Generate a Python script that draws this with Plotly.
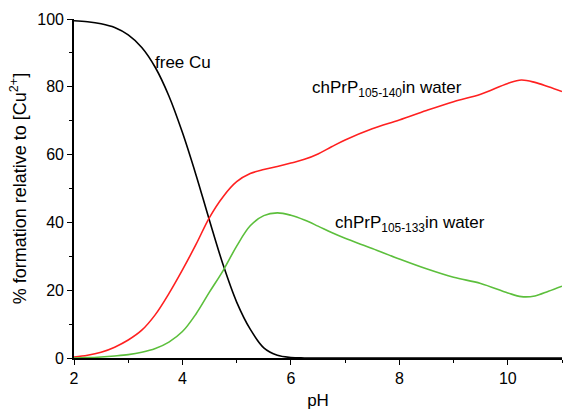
import plotly.graph_objects as go

ph = [2.0, 2.25, 2.5, 2.75, 3.0, 3.25, 3.5, 3.75, 4.0, 4.25, 4.5, 4.75, 5.0, 5.25,
      5.5, 5.75, 6.0, 6.25, 6.5, 6.75, 7.0, 7.5, 8.0, 8.5, 9.0, 9.5, 10.0, 10.25, 10.5, 10.75, 11.0]

free_cu = [99.5, 99.2, 98.6, 97.5, 95.3, 91.6, 85.7, 77.3, 66.5, 54.0, 40.5, 27.5, 16.5, 8.5,
           3.0, 0.8, 0.15, 0.02, 0.0, 0.0, 0.0, 0.0, 0.0, 0.0, 0.0, 0.0, 0.0, 0.0, 0.0, 0.0, 0.0]

prp_140 = [0.3, 0.8, 1.7, 3.2, 5.3, 8.2, 12.8, 19.0, 26.0, 33.5, 41.5, 47.6, 52.0, 54.4,
           55.6, 56.5, 57.5, 58.6, 60.2, 62.3, 64.3, 67.6, 70.2, 73.0, 75.6, 77.8, 81.0, 82.0, 81.3, 80.0, 78.6]

prp_133 = [0.0, 0.1, 0.3, 0.6, 1.0, 1.7, 2.8, 4.7, 7.8, 13.0, 19.5, 25.8, 33.0, 39.0,
           42.0, 42.8, 42.1, 40.7, 38.9, 37.0, 35.3, 32.3, 29.2, 26.3, 23.8, 22.0, 19.2, 18.1, 18.3, 19.7, 21.2]

x_ticks = [2, 4, 6, 8, 10]
y_ticks = [0, 20, 40, 60, 80, 100]

FONT = "Liberation Sans, Arial, sans-serif"

fig = go.Figure()
fig.add_trace(go.Scatter(x=ph, y=free_cu, mode="lines",
                         line=dict(color="black", width=1.6, shape="spline", smoothing=1.0)))
fig.add_trace(go.Scatter(x=ph, y=prp_140, mode="lines",
                         line=dict(color="#ff2020", width=1.6, shape="spline", smoothing=1.0)))
fig.add_trace(go.Scatter(x=ph, y=prp_133, mode="lines",
                         line=dict(color="#5cbf3c", width=1.6, shape="spline", smoothing=1.0)))

ann_font = dict(family=FONT, size=17, color="black")
fig.add_annotation(x=3.45, y=87.2, text="free Cu", showarrow=False,
                   xanchor="left", yanchor="middle", font=ann_font)
fig.add_annotation(x=6.35, y=79.5, text="chPrP<sub>105-140</sub>in water", showarrow=False,
                   xanchor="left", yanchor="middle", font=ann_font)
fig.add_annotation(x=6.77, y=39.5, text="chPrP<sub>105-133</sub>in water", showarrow=False,
                   xanchor="left", yanchor="middle", font=ann_font)

fig.update_layout(
    width=563, height=411,
    margin=dict(l=74, r=1, t=19, b=53, autoexpand=False),
    paper_bgcolor="white", plot_bgcolor="white",
    showlegend=False,
    font=dict(family=FONT, size=16, color="black"),
)
fig.update_xaxes(
    range=[2, 11], tickvals=x_ticks, ticktext=[str(v) for v in x_ticks],
    showline=True, linecolor="black", linewidth=1.6, mirror=False,
    ticks="outside", ticklen=5, tickwidth=1.4, tickcolor="black",
    minor=dict(tickvals=[3, 5, 7, 9, 11], ticks="outside", ticklen=3, tickwidth=1.4, tickcolor="black"),
    showgrid=False, zeroline=False, automargin=False,
    tickfont=dict(family=FONT, size=16),
    title=dict(text="pH", font=dict(family=FONT, size=17), standoff=8),
)
fig.update_yaxes(
    range=[0, 100], tickvals=y_ticks, ticktext=[str(v) for v in y_ticks],
    showline=True, linecolor="black", linewidth=1.6, mirror=False,
    ticks="outside", ticklen=5, tickwidth=1.4, tickcolor="black",
    minor=dict(tickvals=[10, 30, 50, 70, 90], ticks="outside", ticklen=3, tickwidth=1.4, tickcolor="black"),
    showgrid=False, zeroline=False, automargin=False,
    tickfont=dict(family=FONT, size=16),
    title=dict(text="% formation relative to [Cu<sup>2+</sup>]", font=dict(family=FONT, size=18), standoff=6),
)

fig.write_html("out.html",
               config={"displayModeBar": False},
               post_script="document.body.style.margin='0';document.body.style.overflow='hidden';")
